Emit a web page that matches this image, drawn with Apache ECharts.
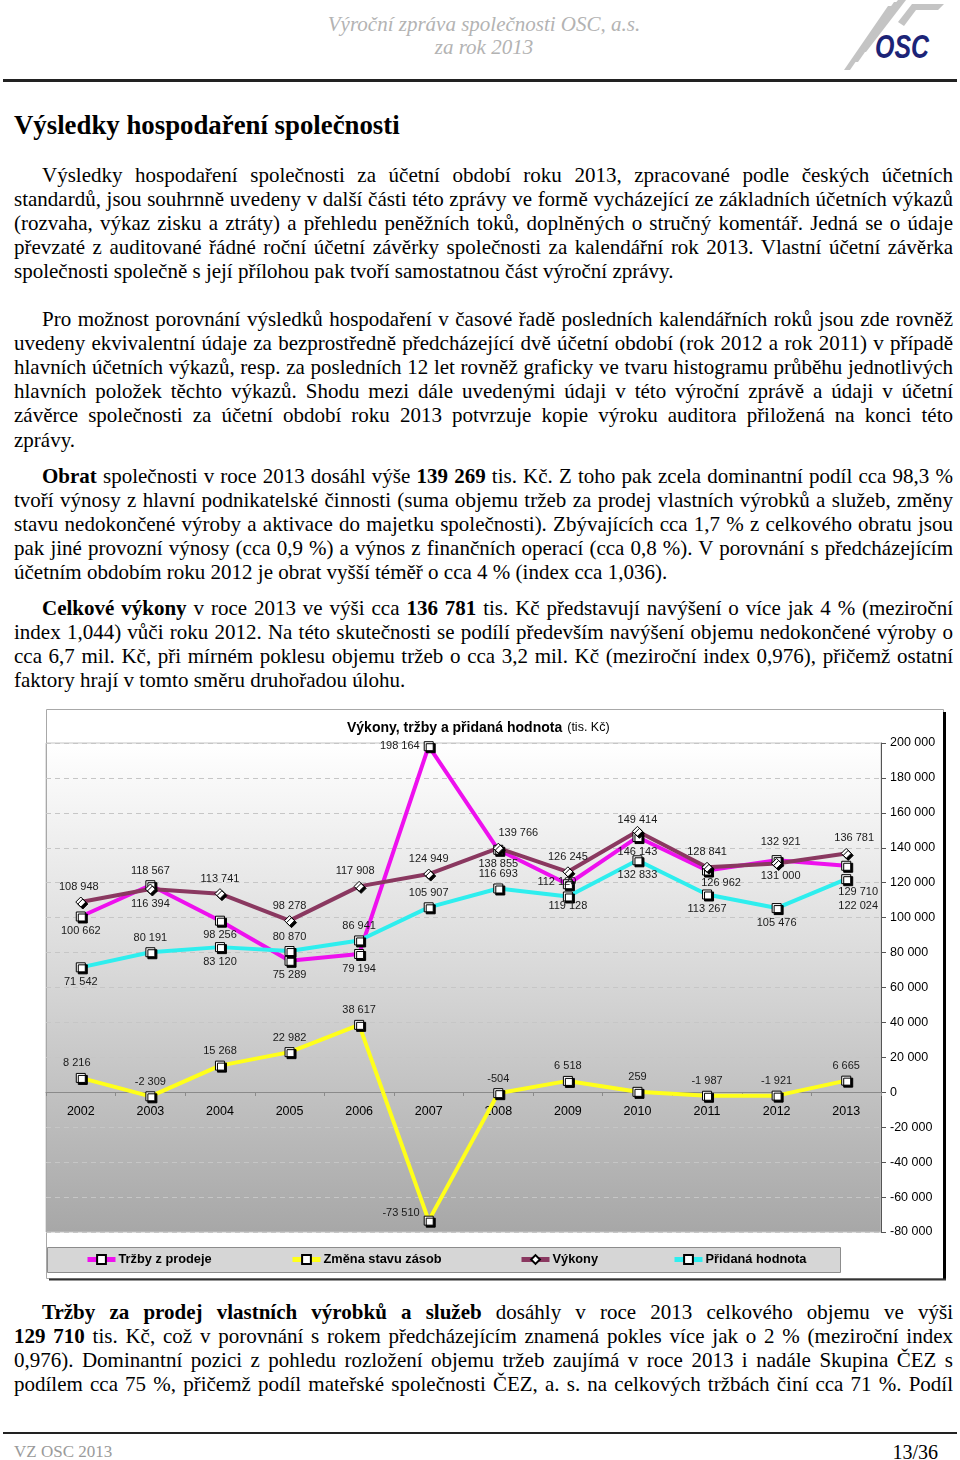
<!DOCTYPE html>
<html lang="cs">
<head>
<meta charset="utf-8">
<script src="https://cdn.jsdelivr.net/npm/echarts@6/dist/echarts.min.js"></script>
<style>
  html, body { margin: 0; padding: 0; background: #fff; }
  #page { position: relative; width: 960px; height: 1460px; overflow: hidden; font-family: "Liberation Serif", "Times New Roman", serif; color: #000; }
  .hdr { position: absolute; width: 400px; left: 284px; text-align: center; font-style: italic; font-size: 21px; color: #b3b3b3; line-height: 24px; }
  .rule { position: absolute; left: 3px; width: 954px; background: #222; }
  .ln { position: absolute; height: 24px; line-height: 24px; font-size: 21px; text-align: justify; text-align-last: justify; white-space: nowrap; }
  .ln.last { text-align-last: left; }
  h1 { position: absolute; left: 14px; top: 107px; margin: 0; font-size: 26.8px; line-height: 36px; font-weight: bold; }
  #chart { position: absolute; left: 0; top: 700px; width: 960px; height: 590px; }
</style>
</head>
<body>
<div id="page">
  <div class="hdr" style="top:12px">Výroční zpráva společnosti OSC, a.s.</div>
  <div class="hdr" style="top:35px">za rok 2013</div>
  <svg style="position:absolute;left:838px;top:0" width="115" height="72" viewBox="0 0 115 72">
    <g fill="#c4c4c4">
      <polygon points="6,70 50,6 56,6 12,70"/>
      <polygon points="14,62 56,2 62,2 20,62"/>
      <polygon points="22,52 62,0 68,0 28,52"/>
      <polygon points="48,14 60,0 66,0 54,14"/>
      <polygon points="60,22 74,4 106,4 100,10 78,10 66,26"/>
    </g>
    <text x="37" y="58" font-family="Liberation Sans, Arial" font-weight="bold" font-style="italic" font-size="34" fill="#1c2477" textLength="54" lengthAdjust="spacingAndGlyphs">OSC</text>
  </svg>
  <div class="rule" style="top:79px;height:3px"></div>

  <h1>Výsledky hospodaření společnosti</h1>

  <div id="text"></div>

  <div id="chart"></div>

  <div class="rule" style="top:1432px;height:2px"></div>
  <div style="position:absolute;left:14px;top:1441px;font-size:17px;color:#9a9a9a;line-height:22px">VZ OSC 2013</div>
  <div style="position:absolute;right:22px;top:1440px;font-size:20px;line-height:24px">13/36</div>
</div>

<script>
// ---------------- chart data ----------------
const years = ['2002','2003','2004','2005','2006','2007','2008','2009','2010','2011','2012','2013'];
const trzby  = [100662, 118567, 98256, 75289, 79194, 198164, 138855, 119128, 146143, 126962, 132921, 129710];
const zmena  = [8216, -2309, 15268, 22982, 38617, -73510, -504, 6518, 259, -1987, -1921, 6665];
const vykony = [108948, 116394, 113741, 98278, 117908, 124949, 139766, 126245, 149414, 128841, 131000, 136781];
const pridana = [71542, 80191, 83120, 80870, 86941, 105907, 116693, 112120, 132833, 113267, 105476, 122024];
const seriesNames = ['Tržby z prodeje', 'Změna stavu zásob', 'Výkony', 'Přidaná hodnota'];

// label placement (style only)
const posTrzby  = ['bottom','top','bottom','bottom','bottom','left','bottom','bottom','bottom','bottom','top','bottom'];
const offTrzby  = [[0,0],[0,0],[0,0],[0,0],[0,0],[0,0],[0,0],[0,7],[0,0],[14,-2],[4,-4],[12,12]];
const posZmena  = ['top','top','top','top','top','left','top','top','top','top','top','top'];
const offZmena  = [[-4,0],[0,0],[0,0],[0,0],[0,0],[0,-8],[0,0],[0,0],[0,0],[0,0],[0,0],[0,0]];
const posVykony = ['top','bottom','top','top','top','top','top','top','top','top','bottom','top'];
const offVykony = [[-2,0],[0,0],[0,0],[0,0],[-4,0],[0,0],[20,0],[0,0],[0,4],[0,0],[4,-3],[8,0]];
const posPrid   = ['bottom','top','bottom','top','top','top','top','top','bottom','bottom','bottom','bottom'];
const offPrid   = [[0,0],[0,0],[0,0],[0,0],[0,0],[0,0],[0,0],[-11,0],[0,0],[0,0],[0,0],[12,12]];

// ---------------- page text ----------------
const paragraphs = [
  { top: 175, lines: [
    'Výsledky hospodaření společnosti za účetní období roku 2013, zpracované podle českých účetních',
    'standardů, jsou souhrnně uvedeny v další části této zprávy ve formě vycházející ze základních účetních výkazů',
    '(rozvaha, výkaz zisku a ztráty) a přehledu peněžních toků, doplněných o stručný komentář. Jedná se o údaje',
    'převzaté z&nbsp;auditované řádné roční účetní závěrky společnosti za kalendářní rok 2013. Vlastní účetní závěrka',
    'společnosti společně s její přílohou pak tvoří samostatnou část výroční zprávy.'], end: true },
  { top: 319, lines: [
    'Pro možnost porovnání výsledků hospodaření v časové řadě posledních kalendářních roků jsou zde rovněž',
    'uvedeny ekvivalentní údaje za bezprostředně předcházející dvě účetní období (rok 2012 a rok 2011) v případě',
    'hlavních účetních výkazů, resp. za posledních 12 let rovněž graficky ve tvaru histogramu průběhu jednotlivých',
    'hlavních položek těchto výkazů. Shodu mezi dále uvedenými údaji v&nbsp;této výroční zprávě a údaji v&nbsp;účetní',
    'závěrce společnosti za účetní období roku 2013 potvrzuje kopie výroku auditora přiložená na konci této',
    'zprávy.'], end: true },
  { top: 476, lines: [
    '<b>Obrat</b> společnosti v roce 2013 dosáhl výše <b>139 269</b> tis. Kč. Z toho pak zcela dominantní podíl cca 98,3 %',
    'tvoří výnosy z hlavní podnikatelské činnosti (suma objemu tržeb za prodej vlastních výrobků a služeb, změny',
    'stavu nedokončené výroby a aktivace do majetku společnosti). Zbývajících cca 1,7 % z celkového obratu jsou',
    'pak jiné provozní výnosy (cca 0,9 %) a výnos z finančních operací (cca 0,8 %). V porovnání s předcházejícím',
    'účetním obdobím roku 2012 je obrat vyšší téměř o cca 4 % (index cca 1,036).'], end: true },
  { top: 608, lines: [
    '<b>Celkové výkony</b> v roce 2013 ve výši cca <b>136 781</b> tis. Kč představují navýšení o více jak 4 % (meziroční',
    'index 1,044) vůči roku 2012. Na této skutečnosti se podílí především navýšení objemu nedokončené výroby o',
    'cca 6,7 mil. Kč, při mírném poklesu objemu tržeb o cca 3,2 mil. Kč (meziroční index 0,976), přičemž ostatní',
    'faktory hrají v tomto směru druhořadou úlohu.'], end: true },
  { top: 1312, lines: [
    '<b>Tržby za prodej vlastních výrobků a služeb</b> dosáhly v&nbsp;roce 2013 celkového objemu ve výši',
    '<b>129 710</b> tis. Kč, což v porovnání s rokem předcházejícím znamená pokles více jak o 2 % (meziroční index',
    '0,976). Dominantní pozici z pohledu rozložení objemu tržeb zaujímá v&nbsp;roce 2013 i nadále Skupina ČEZ s',
    'podílem cca 75 %, přičemž podíl mateřské společnosti ČEZ, a. s. na celkových tržbách činí cca 71 %. Podíl'], end: false }
];
(function () {
  const host = document.getElementById('text');
  let html = '';
  paragraphs.forEach(p => {
    p.lines.forEach((t, i) => {
      const first = i === 0;
      const last = p.end && i === p.lines.length - 1;
      const left = first ? 42 : 14;
      const width = 953 - left;
      const top = p.top + i * 24.1 - 12;
      html += `<div class="ln${last ? ' last' : ''}" style="left:${left}px;top:${top.toFixed(1)}px;width:${width}px">${t}</div>`;
    });
  });
  host.innerHTML = html;
})();

// ---------------- chart ----------------
const fmt = v => String(v).replace(/\B(?=(\d{3})+(?!\d))/g, ' ');
const FONT = 'Liberation Sans, Arial, sans-serif';

function mkData(values, pos, off) {
  return values.map((v, i) => ({ value: v, label: { position: pos[i], offset: off[i] } }));
}
function mkSeries(name, values, color, symbol, size, pos, off) {
  return {
    name, type: 'line', data: mkData(values, pos, off),
    symbol, symbolSize: size, showAllSymbol: true,
    lineStyle: { color, width: 4 },
    itemStyle: { color: '#fff', borderColor: '#000', borderWidth: 1, shadowColor: '#000', shadowBlur: 0, shadowOffsetX: 2, shadowOffsetY: 2 },
    label: { show: true, fontFamily: FONT, fontSize: 11, color: '#1a1a1a', distance: 4, formatter: p => fmt(p.value) },
    emphasis: { disabled: true },
    animation: false
  };
}

const chart = echarts.init(document.getElementById('chart'), null, { renderer: 'canvas' });
const legendLefts = [85, 290, 519, 672];
chart.setOption({
  animation: false,
  textStyle: { fontFamily: FONT },
  title: {
    left: 342, top: 14,
    text: '{b|Výkony, tržby a přidaná hodnota} {n|(tis. Kč)}',
    textStyle: { fontWeight: 'normal', rich: {
      b: { fontFamily: FONT, fontSize: 14, fontWeight: 'bold', color: '#000' },
      n: { fontFamily: FONT, fontSize: 12.5, fontWeight: 'normal', color: '#000' } } }
  },
  graphic: [
    { type: 'rect', z: 0, shape: { x: 46.5, y: 9.5, width: 897, height: 569 }, style: { fill: null, stroke: '#a8a8a8', lineWidth: 1 } },
    { type: 'line', z: 0, shape: { x1: 944.5, y1: 12, x2: 944.5, y2: 580 }, style: { stroke: '#000', lineWidth: 3 } },
    { type: 'line', z: 0, shape: { x1: 49, y1: 579.5, x2: 946, y2: 579.5 }, style: { stroke: '#333', lineWidth: 2 } },
    { type: 'rect', z: 1, shape: { x: 47.5, y: 547.5, width: 793, height: 25 }, style: { fill: '#d6d6d6', stroke: '#8c8c8c', lineWidth: 1 } }
  ],
  legend: seriesNames.map((n, i) => ({
    data: [n], left: legendLefts[i], top: 553, padding: 0,
    itemWidth: 28, itemHeight: 11, selectedMode: false,
    lineStyle: { width: 5 },
    textStyle: { fontFamily: FONT, fontSize: 12.8, fontWeight: 'bold', color: '#000', padding: [0, 0, 0, -2] }
  })),
  grid: {
    left: 46, right: 79, top: 43, bottom: 58, show: true, borderColor: '#c4c4c4', borderWidth: 1,
    backgroundColor: new echarts.graphic.LinearGradient(0, 0, 0, 1, [
      { offset: 0, color: '#ffffff' }, { offset: 0.45, color: '#dadada' }, { offset: 1, color: '#a7a7a7' }])
  },
  xAxis: {
    type: 'category', data: years, boundaryGap: true, position: 'bottom', offset: -140,
    axisLine: { onZero: false, lineStyle: { color: '#8a8a8a', width: 1 } },
    axisTick: { show: true, length: 4, lineStyle: { color: '#8a8a8a' } },
    axisLabel: { fontFamily: FONT, fontSize: 12.5, color: '#000', margin: 13 },
    splitLine: { show: false }
  },
  yAxis: {
    type: 'value', position: 'right', min: -80000, max: 200000, interval: 20000,
    axisLine: { show: true, lineStyle: { color: '#555', width: 1 } },
    axisTick: { show: true, length: 5, lineStyle: { color: '#555' } },
    axisLabel: { fontFamily: FONT, fontSize: 12.5, color: '#000', margin: 9, formatter: fmt },
    splitLine: { show: true, lineStyle: { color: '#c6c6c6', type: [5, 4], width: 1 } }
  },
  series: [
    mkSeries(seriesNames[0], trzby, '#ee10ee', 'rect', 9, posTrzby, offTrzby),
    mkSeries(seriesNames[1], zmena, '#ffff1a', 'rect', 9, posZmena, offZmena),
    mkSeries(seriesNames[2], vykony, '#8a3860', 'diamond', 10, posVykony, offVykony),
    mkSeries(seriesNames[3], pridana, '#2eeeee', 'rect', 9, posPrid, offPrid)
  ]
});
</script>
</body>
</html>
